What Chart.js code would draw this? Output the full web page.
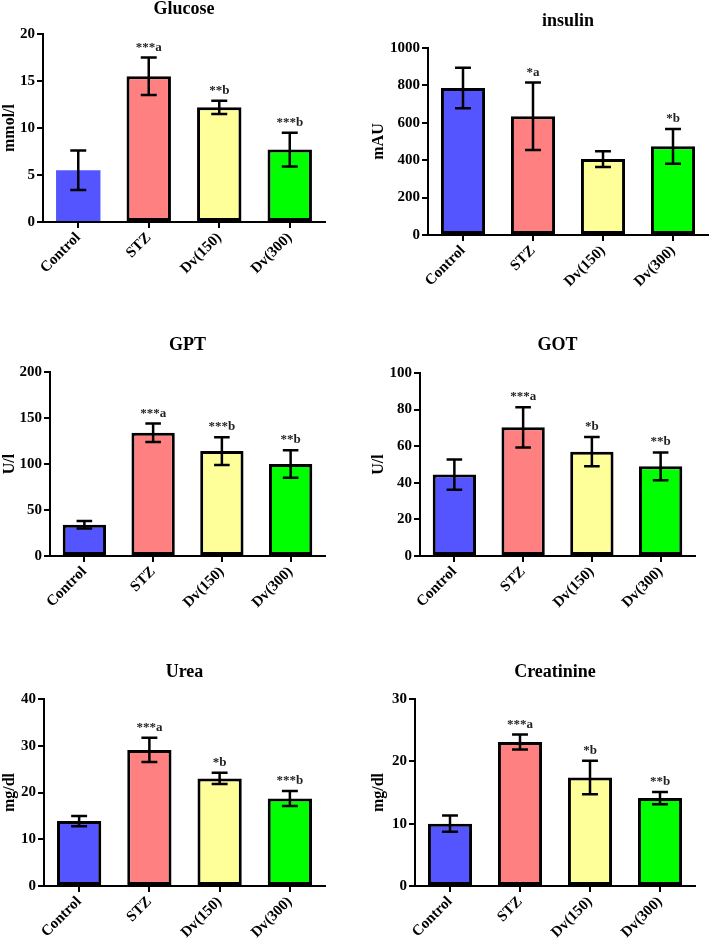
<!DOCTYPE html>
<html>
<head>
<meta charset="utf-8">
<script src="https://cdn.jsdelivr.net/npm/chart.js@4.4.1/dist/chart.umd.min.js"></script>
<style>
  body { margin: 0; background: #fff; }
  #page { position: relative; width: 711px; height: 939px; overflow: hidden; }
  #page canvas { position: absolute; }
</style>
</head>
<body>
<div id="page">
  <canvas id="glucoseChart" width="340" height="310" style="left:0;top:0"></canvas>
  <canvas id="insulinChart" width="356" height="310" style="left:355px;top:0"></canvas>
  <canvas id="gptChart" width="340" height="310" style="left:0;top:310px"></canvas>
  <canvas id="gotChart" width="356" height="310" style="left:355px;top:310px"></canvas>
  <canvas id="ureaChart" width="340" height="319" style="left:0;top:620px"></canvas>
  <canvas id="creatinineChart" width="356" height="319" style="left:355px;top:620px"></canvas>
</div>
<script>
// ===============================
// Data
// ===============================
const groups = ['Control', 'STZ', 'Dv(150)', 'Dv(300)'];
const barColors = ['#5555FF', '#FF8080', '#FFFF99', '#00FF00'];

const glucoseMean = [5.5, 15.5, 12.2, 7.7];
const glucoseErr = [2.1, 2.0, 0.7, 1.8];
const glucoseSig = ['', '***a', '**b', '***b'];

const insulinMean = [786, 635, 406, 474];
const insulinErr = [108, 180, 42, 93];
const insulinSig = ['', '*a', '', '*b'];

const gptMean = [34, 134, 114, 100];
const gptErr = [4, 10, 15, 15];
const gptSig = ['', '***a', '***b', '**b'];

const gotMean = [44.5, 70.3, 57, 49];
const gotErr = [8.3, 11, 8, 7.6];
const gotSig = ['', '***a', '*b', '**b'];

const ureaMean = [13.9, 29.1, 23.0, 18.7];
const ureaErr = [1.1, 2.6, 1.2, 1.6];
const ureaSig = ['', '***a', '*b', '***b'];

const creatinineMean = [10.0, 23.1, 17.4, 14.1];
const creatinineErr = [1.3, 1.2, 2.7, 1.0];
const creatinineSig = ['', '***a', '*b', '**b'];

const FONT = "'Liberation Serif', 'Times New Roman', serif";

// ===============================
// Plugin: error bars + significance labels
// ===============================
const errorBars = {
  id: 'errorBars',
  afterDatasetsDraw(chart) {
    const ctx = chart.ctx;
    const y = chart.scales.y;
    const ds = chart.data.datasets[0];
    const meta = chart.getDatasetMeta(0);
    ctx.save();
    ctx.strokeStyle = '#000';
    ctx.lineWidth = 2.5;
    ctx.fillStyle = '#222';
    ctx.font = 'bold 13px ' + FONT;
    ctx.textAlign = 'center';
    ctx.textBaseline = 'alphabetic';
    meta.data.forEach((bar, i) => {
      const m = ds.data[i], e = ds.err[i];
      const yTop = y.getPixelForValue(m + e);
      const yBot = y.getPixelForValue(m - e);
      const cap = bar.width * 0.18;
      ctx.beginPath();
      ctx.moveTo(bar.x, yTop); ctx.lineTo(bar.x, yBot);
      ctx.moveTo(bar.x - cap, yTop); ctx.lineTo(bar.x + cap, yTop);
      ctx.moveTo(bar.x - cap, yBot); ctx.lineTo(bar.x + cap, yBot);
      ctx.stroke();
      if (ds.sig[i]) ctx.fillText(ds.sig[i], bar.x, yTop - 7);
    });
    ctx.restore();
  }
};

// ===============================
// Builder for one panel
// ===============================
function makePanel(id, title, yTitle, mean, err, sig, yMax, step, lay) {
  new Chart(document.getElementById(id), {
    type: 'bar',
    data: {
      labels: groups,
      datasets: [{
        data: mean,
        err: err,
        sig: sig,
        backgroundColor: barColors,
        borderColor: '#000',
        borderWidth: lay.noBorderFirst ? [0, 3, 3, 3] : 3,
        borderSkipped: false,
        categoryPercentage: 1,
        barPercentage: 0.63
      }]
    },
    options: {
      responsive: false,
      animation: false,
      devicePixelRatio: 1,
      layout: { padding: { left: 0, right: lay.padR, top: 0, bottom: 0 } },
      plugins: {
        legend: { display: false },
        tooltip: { enabled: false },
        title: {
          display: true,
          text: title,
          fullSize: false,
          color: '#000',
          font: { family: FONT, size: 18, weight: 'bold', lineHeight: 1 },
          padding: { top: lay.titleTop, bottom: lay.titleBottom }
        }
      },
      scales: {
        x: {
          grid: { offset: false, drawOnChartArea: false, drawTicks: true, tickLength: 6, color: '#000', lineWidth: 2 },
          border: { color: '#000', width: 2 },
          ticks: { color: '#000', maxRotation: 45, minRotation: 45, padding: 1, font: { family: FONT, size: 15, weight: 'bold' } },
          afterFit: s => { s.height = lay.xH; }
        },
        y: {
          min: 0,
          max: yMax,
          grid: { drawOnChartArea: false, drawTicks: true, tickLength: 6, color: '#000', lineWidth: 2 },
          border: { color: '#000', width: 2 },
          ticks: {
            stepSize: step, color: '#000', padding: 2,
            font: { family: FONT, size: 15, weight: 'bold' },
            callback: v => String(v)
          },
          title: {
            display: true,
            text: yTitle,
            color: '#000',
            padding: { top: lay.yTitlePad, bottom: 0 },
            font: { family: FONT, size: 16, weight: 'bold' }
          },
          afterFit: s => { s.width = lay.yW; }
        }
      }
    },
    plugins: [errorBars]
  });
}

makePanel('glucoseChart', 'Glucose', 'mmol/l', glucoseMean, glucoseErr, glucoseSig, 20, 5,
  { yW: 43, xH: 88, padR: 15, titleTop: 0, titleBottom: 16, yTitlePad: 0, noBorderFirst: true });
makePanel('insulinChart', 'insulin', 'mAU', insulinMean, insulinErr, insulinSig, 1000, 200,
  { yW: 73, xH: 75, padR: 3, titleTop: 12, titleBottom: 18, yTitlePad: 14 });
makePanel('gptChart', 'GPT', 'U/l', gptMean, gptErr, gptSig, 200, 50,
  { yW: 50, xH: 64, padR: 15, titleTop: 26.5, titleBottom: 17.5, yTitlePad: 0 });
makePanel('gotChart', 'GOT', 'U/l', gotMean, gotErr, gotSig, 100, 20,
  { yW: 65, xH: 64, padR: 16, titleTop: 26.5, titleBottom: 18.5, yTitlePad: 14 });
makePanel('ureaChart', 'Urea', 'mg/dl', ureaMean, ureaErr, ureaSig, 40, 10,
  { yW: 44, xH: 53, padR: 15, titleTop: 43, titleBottom: 18, yTitlePad: 0 });
makePanel('creatinineChart', 'Creatinine', 'mg/dl', creatinineMean, creatinineErr, creatinineSig, 30, 10,
  { yW: 60, xH: 53, padR: 16, titleTop: 43, titleBottom: 18, yTitlePad: 14 });
</script>
</body>
</html>
